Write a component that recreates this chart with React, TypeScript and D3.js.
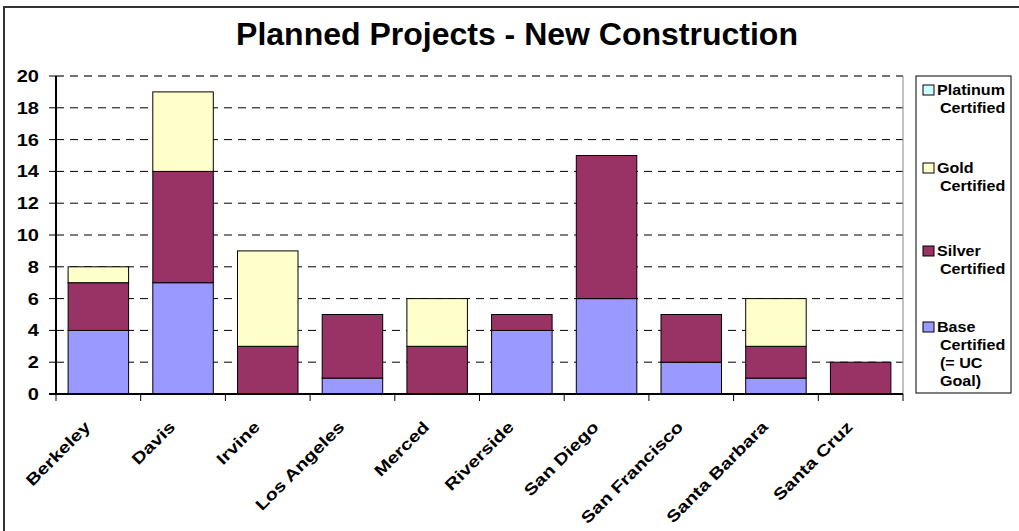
import React from "react";
import * as d3 from "d3";

const categories = ["Berkeley", "Davis", "Irvine", "Los Angeles", "Merced", "Riverside", "San Diego", "San Francisco", "Santa Barbara", "Santa Cruz"];
const baseCertified = [4, 7, 0, 1, 0, 4, 6, 2, 1, 0];
const silverCertified = [3, 7, 3, 4, 3, 1, 9, 3, 2, 2];
const goldCertified = [1, 5, 6, 0, 3, 0, 0, 0, 3, 0];
const platinumCertified = [0, 0, 0, 0, 0, 0, 0, 0, 0, 0];
const yTicks = [0, 2, 4, 6, 8, 10, 12, 14, 16, 18, 20];
const seriesNames = ["Base", "Silver", "Gold", "Platinum"];
const legendLabels = [
  ["Platinum", "Certified"],
  ["Gold", "Certified"],
  ["Silver", "Certified"],
  ["Base", "Certified", "(= UC", "Goal)"],
];
const legendKeys = ["Platinum", "Gold", "Silver", "Base"];
const colors: Record<string, string> = {
  Base: "#9999FF",
  Silver: "#993366",
  Gold: "#FFFFCC",
  Platinum: "#CCFFFF",
};

const W = 1019;
const H = 531;
const L = 56, R = 903, T = 76, B = 394;
const FONT = "'Liberation Sans', Arial, sans-serif";

export default function App() {
  const rows = categories.map((c, i) => ({
    cat: c,
    Base: baseCertified[i],
    Silver: silverCertified[i],
    Gold: goldCertified[i],
    Platinum: platinumCertified[i],
  }));
  const stack = d3.stack<any>().keys(seriesNames)(rows);
  const x = d3.scaleBand().domain(categories).range([L, R]).paddingInner(0.2857).paddingOuter(0.1429);
  const xb = d3.scaleBand().domain(categories).range([L, R]);
  const y = d3.scaleLinear().domain([0, 20]).range([B, T]);

  const legendY = [90, 168, 251, 327];

  return (
    <svg width={W} height={H} style={{ position: "absolute", left: 0, top: 0, display: "block" }}>
      <rect x={0} y={0} width={W} height={H} fill="#fff" />
      <line x1={3} x2={W} y1={7} y2={7} stroke="#333" strokeWidth={2} />
      <line x1={4} x2={4} y1={6} y2={H} stroke="#333" strokeWidth={2} />
      <text x={517} y={45} textAnchor="middle" fontFamily={FONT} fontWeight="bold" fontSize={32}>
        Planned Projects - New Construction
      </text>
      {/* gridlines */}
      {yTicks.filter((t) => t > 0 && t < 20).map((t) => (
        <line key={t} x1={L} x2={R} y1={y(t)} y2={y(t)} stroke="#000" strokeWidth={1} strokeDasharray="8,6" />
      ))}
      <line x1={L} x2={R} y1={y(20)} y2={y(20)} stroke="#444" strokeWidth={1.5} strokeDasharray="8,6" />
      <line x1={R} x2={R} y1={T} y2={B} stroke="#888" strokeWidth={1} />
      {/* bars */}
      {stack.map((s) => (
        <g key={s.key}>
          {s.map((d, i) => {
            const h = y(d[0]) - y(d[1]);
            if (h <= 0) return null;
            return (
              <rect
                key={i}
                x={x(categories[i])!}
                y={y(d[1])}
                width={x.bandwidth()}
                height={h}
                fill={colors[s.key]}
                stroke="#000"
                strokeWidth={1}
              />
            );
          })}
        </g>
      ))}
      {/* axes */}
      <line x1={L} x2={L} y1={T} y2={B} stroke="#000" strokeWidth={2} />
      <line x1={L - 7} x2={R} y1={B} y2={B} stroke="#000" strokeWidth={2} />
      {yTicks.map((t) => (
        <g key={t}>
          <line x1={L - 7} x2={L} y1={y(t)} y2={y(t)} stroke="#000" strokeWidth={1} />
          <text
            transform={`translate(39,${y(t) + 6}) scale(1.25,1)`}
            textAnchor="end"
            fontFamily={FONT}
            fontWeight="bold"
            fontSize={16}
          >
            {t}
          </text>
        </g>
      ))}
      {categories.map((c) => (
        <line key={c} x1={xb(c)!} x2={xb(c)!} y1={B} y2={B + 7} stroke="#000" strokeWidth={1} />
      ))}
      <line x1={R} x2={R} y1={B} y2={B + 7} stroke="#000" strokeWidth={1} />
      {categories.map((c) => {
        const cx = xb(c)! + xb.bandwidth() / 2;
        return (
          <text
            key={c}
            transform={`translate(${cx - 7},${428}) rotate(-45) scale(1.25,1)`}
            textAnchor="end"
            fontFamily={FONT}
            fontWeight="bold"
            fontSize={16}
          >
            {c}
          </text>
        );
      })}
      {/* legend */}
      <rect x={916} y={76} width={95} height={317} fill="#fff" stroke="#000" strokeWidth={1} />
      {legendKeys.map((k, i) => (
        <g key={k}>
          <rect x={923} y={legendY[i] - 5} width={11} height={10} fill={colors[k]} stroke="#000" strokeWidth={1} />
          {legendLabels[i].map((ln, j) => (
            <text
              key={j}
              transform={`translate(${j === 0 ? 937 : 940},${legendY[i] + 5 + j * 18}) scale(1.15,1)`}
              fontFamily={FONT}
              fontWeight="bold"
              fontSize={14}
            >
              {ln}
            </text>
          ))}
        </g>
      ))}
    </svg>
  );
}
